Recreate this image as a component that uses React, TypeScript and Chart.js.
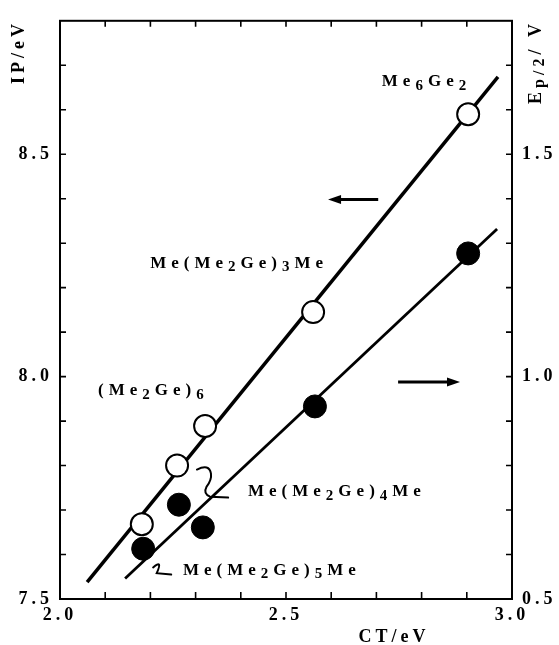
import React, { useEffect, useRef } from 'react';
import { Chart, registerables } from 'chart.js';

Chart.register(...registerables);

// ---- data ----
const ctOpen = [2.181, 2.259, 2.321, 2.56, 2.903];
const ipOpen = [7.668, 7.8, 7.889, 8.145, 8.59];
const ctFilled = [2.184, 2.263, 2.316, 2.564, 2.903];
const epFilled = [0.613, 0.712, 0.661, 0.933, 1.277];
const ctFitIP = [2.06, 2.969];
const ipFit = [7.538, 8.674];
const ctFitEp = [2.144, 2.967];
const epFit = [0.546, 1.332];
const xTicks = [2.0, 2.5, 3.0];
const ipTicks = [7.5, 8.0, 8.5];
const epTicks = [0.5, 1.0, 1.5];

type Part = [string, boolean];
const lblMe6Ge2: Part[] = [['Me', false], ['6', true], ['Ge', false], ['2', true]];
const lblMe3: Part[] = [['Me(Me', false], ['2', true], ['Ge)', false], ['3', true], ['Me', false]];
const lblCyc6: Part[] = [['(Me', false], ['2', true], ['Ge)', false], ['6', true]];
const lblMe4: Part[] = [['Me(Me', false], ['2', true], ['Ge)', false], ['4', true], ['Me', false]];
const lblMe5: Part[] = [['Me(Me', false], ['2', true], ['Ge)', false], ['5', true], ['Me', false]];
const titleX: Part[] = [['CT/eV', false]];
const titleL: Part[] = [['IP/eV', false]];
const titleR: Part[] = [['E', false], ['p/2', true], ['/ V', false]];

const FAMILY = '"Liberation Serif", "Times New Roman", serif';

function drawRich(ctx: CanvasRenderingContext2D, parts: Part[], x: number, y: number, align: string, size: number, spacing = 4) {
  ctx.save();
  (ctx as any).letterSpacing = spacing + 'px';
  ctx.textBaseline = 'middle';
  ctx.textAlign = 'left';
  ctx.fillStyle = '#000';
  const widths = parts.map(([t, sub]) => {
    ctx.font = `bold ${sub ? size - 2 : size}px ${FAMILY}`;
    return ctx.measureText(t).width;
  });
  const total = widths.reduce((a, b) => a + b, 0) - spacing;
  let cx = align === 'right' ? x - total : align === 'center' ? x - total / 2 : x;
  parts.forEach(([t, sub], i) => {
    ctx.font = `bold ${sub ? size - 2 : size}px ${FAMILY}`;
    ctx.fillText(t, cx, y + (sub ? 4 : 0));
    cx += widths[i];
  });
  ctx.restore();
}

const decorPlugin = {
  id: 'decor',
  beforeDraw(chart: any) {
    (chart.ctx as any).letterSpacing = '4px';
  },
  afterDraw(chart: any) {
    const ctx: CanvasRenderingContext2D = chart.ctx;
    const { left, right, top, bottom } = chart.chartArea;
    const sx = chart.scales.x;
    const sl = chart.scales.yL;
    const sr = chart.scales.yR;
    const X = (v: number) => sx.getPixelForValue(v);
    const YL = (v: number) => sl.getPixelForValue(v);
    ctx.save();
    (ctx as any).letterSpacing = '0px';
    ctx.strokeStyle = '#000';
    ctx.fillStyle = '#000';
    // frame
    ctx.lineWidth = 2;
    ctx.strokeRect(left, top, right - left, bottom - top);
    // inner ticks
    ctx.lineWidth = 1.6;
    ctx.beginPath();
    for (let i = 1; i < 10; i++) {
      const v = 2 + i * 0.1;
      const px = X(v);
      ctx.moveTo(px, bottom);
      ctx.lineTo(px, bottom - 7);
      ctx.moveTo(px, top);
      ctx.lineTo(px, top + 6);
    }
    for (let i = 1; i < 13; i++) {
      const py = YL(7.5 + i * 0.1);
      ctx.moveTo(left, py);
      ctx.lineTo(left + 6, py);
      const pr = sr.getPixelForValue(0.5 + i * 0.1);
      ctx.moveTo(right, pr);
      ctx.lineTo(right - 6, pr);
    }
    ctx.stroke();

    // arrows
    const arrow = (x0: number, x1: number, y: number) => {
      const dir = Math.sign(x1 - x0);
      ctx.lineWidth = 3;
      ctx.beginPath();
      ctx.moveTo(x0, y);
      ctx.lineTo(x1 - dir * 8, y);
      ctx.stroke();
      ctx.beginPath();
      ctx.moveTo(x1, y);
      ctx.lineTo(x1 - dir * 13, y - 4.5);
      ctx.lineTo(x1 - dir * 13, y + 4.5);
      ctx.closePath();
      ctx.fill();
    };
    arrow(X(2.704), X(2.593), YL(8.398));
    arrow(X(2.748), X(2.885), YL(7.988));

    // leader squiggles
    ctx.lineWidth = 2;
    ctx.lineCap = 'round';
    ctx.beginPath();
    ctx.moveTo(X(2.206), YL(7.571));
    ctx.quadraticCurveTo(X(2.228), YL(7.59), X(2.214), YL(7.558));
    ctx.lineTo(X(2.246), YL(7.555));
    ctx.stroke();
    ctx.beginPath();
    ctx.moveTo(X(2.303), YL(7.791));
    ctx.quadraticCurveTo(X(2.33), YL(7.805), X(2.334), YL(7.782));
    ctx.quadraticCurveTo(X(2.336), YL(7.768), X(2.324), YL(7.752));
    ctx.quadraticCurveTo(X(2.316), YL(7.737), X(2.332), YL(7.73));
    ctx.lineTo(X(2.372), YL(7.728));
    ctx.stroke();
    ctx.restore();

    // labels
    drawRich(ctx, lblMe6Ge2, X(2.712), YL(8.663), 'left', 17, 5);
    drawRich(ctx, lblMe3, X(2.582), YL(8.255), 'right', 17, 5);
    drawRich(ctx, lblCyc6, X(2.084), YL(7.968), 'left', 17, 5);
    drawRich(ctx, lblMe4, X(2.416), YL(7.741), 'left', 17, 5);
    drawRich(ctx, lblMe5, X(2.272), YL(7.564), 'left', 17, 5);

    // axis titles
    drawRich(ctx, titleX, 392, 637, 'center', 18);
    ctx.save();
    ctx.translate(19, 54);
    ctx.rotate(-Math.PI / 2);
    drawRich(ctx, titleL, 0, 0, 'center', 18);
    ctx.restore();
    ctx.save();
    ctx.translate(536, 64);
    ctx.rotate(-Math.PI / 2);
    drawRich(ctx, titleR, 0, 0, 'center', 18);
    ctx.restore();
    (ctx as any).letterSpacing = '0px';
  },
};

export default function App() {
  const ref = useRef<HTMLCanvasElement | null>(null);
  useEffect(() => {
    document.body.style.margin = '0';
    const canvas = ref.current!;
    const tickFont = { family: FAMILY, size: 18, weight: 'bold' as const };
    const chart = new Chart(canvas, {
      type: 'scatter',
      data: {
        datasets: [
          {
            label: 'IP',
            data: ctOpen.map((x, i) => ({ x, y: ipOpen[i] })),
            yAxisID: 'yL',
            pointRadius: 11,
            pointBorderWidth: 2,
            pointBackgroundColor: '#fff',
            pointBorderColor: '#000',
            order: 0,
          },
          {
            label: 'Ep/2',
            data: ctFilled.map((x, i) => ({ x, y: epFilled[i] })),
            yAxisID: 'yR',
            pointRadius: 11.5,
            pointBorderWidth: 1,
            pointBackgroundColor: '#000',
            pointBorderColor: '#000',
            order: 0,
          },
          {
            label: 'IP fit',
            data: ctFitIP.map((x, i) => ({ x, y: ipFit[i] })),
            yAxisID: 'yL',
            showLine: true,
            borderColor: '#000',
            borderWidth: 3.5,
            pointRadius: 0,
            order: 1,
          },
          {
            label: 'Ep fit',
            data: ctFitEp.map((x, i) => ({ x, y: epFit[i] })),
            yAxisID: 'yR',
            showLine: true,
            borderColor: '#000',
            borderWidth: 2.8,
            pointRadius: 0,
            order: 1,
          },
        ],
      },
      options: {
        responsive: false,
        animation: false,
        devicePixelRatio: 1,
        layout: { padding: { top: 10, left: 0, right: 0, bottom: 0 } },
        plugins: { legend: { display: false }, tooltip: { enabled: false } },
        scales: {
          x: {
            type: 'linear',
            min: 2,
            max: 3,
            afterFit: (s: any) => { s.height = 46; },
            afterBuildTicks: (s: any) => { s.ticks = xTicks.map((v) => ({ value: v })); },
            ticks: { font: tickFont, color: '#000', padding: 6, autoSkip: false, maxRotation: 0, callback: (v: any) => Number(v).toFixed(1) },
            grid: { display: false, drawTicks: false },
            border: { display: false },
          },
          yL: {
            type: 'linear',
            position: 'left',
            min: 7.5,
            max: 8.8,
            afterFit: (s: any) => { s.width = 60; },
            afterBuildTicks: (s: any) => { s.ticks = ipTicks.map((v) => ({ value: v })); },
            ticks: { font: tickFont, color: '#000', padding: 7, autoSkip: false, callback: (v: any) => Number(v).toFixed(1) },
            grid: { display: false, drawTicks: false },
            border: { display: false },
          },
          yR: {
            type: 'linear',
            position: 'right',
            min: 0.5,
            max: 1.8,
            afterFit: (s: any) => { s.width = 47; },
            afterBuildTicks: (s: any) => { s.ticks = epTicks.map((v) => ({ value: v })); },
            ticks: { font: tickFont, color: '#000', padding: 10, autoSkip: false, callback: (v: any) => Number(v).toFixed(1) },
            grid: { display: false, drawTicks: false },
            border: { display: false },
          },
        },
      },
      plugins: [decorPlugin],
    });
    return () => chart.destroy();
  }, []);
  return (
    <div style={{ width: 559, height: 645 }}>
      <canvas ref={ref} width={559} height={645} style={{ display: 'block' }} />
    </div>
  );
}
